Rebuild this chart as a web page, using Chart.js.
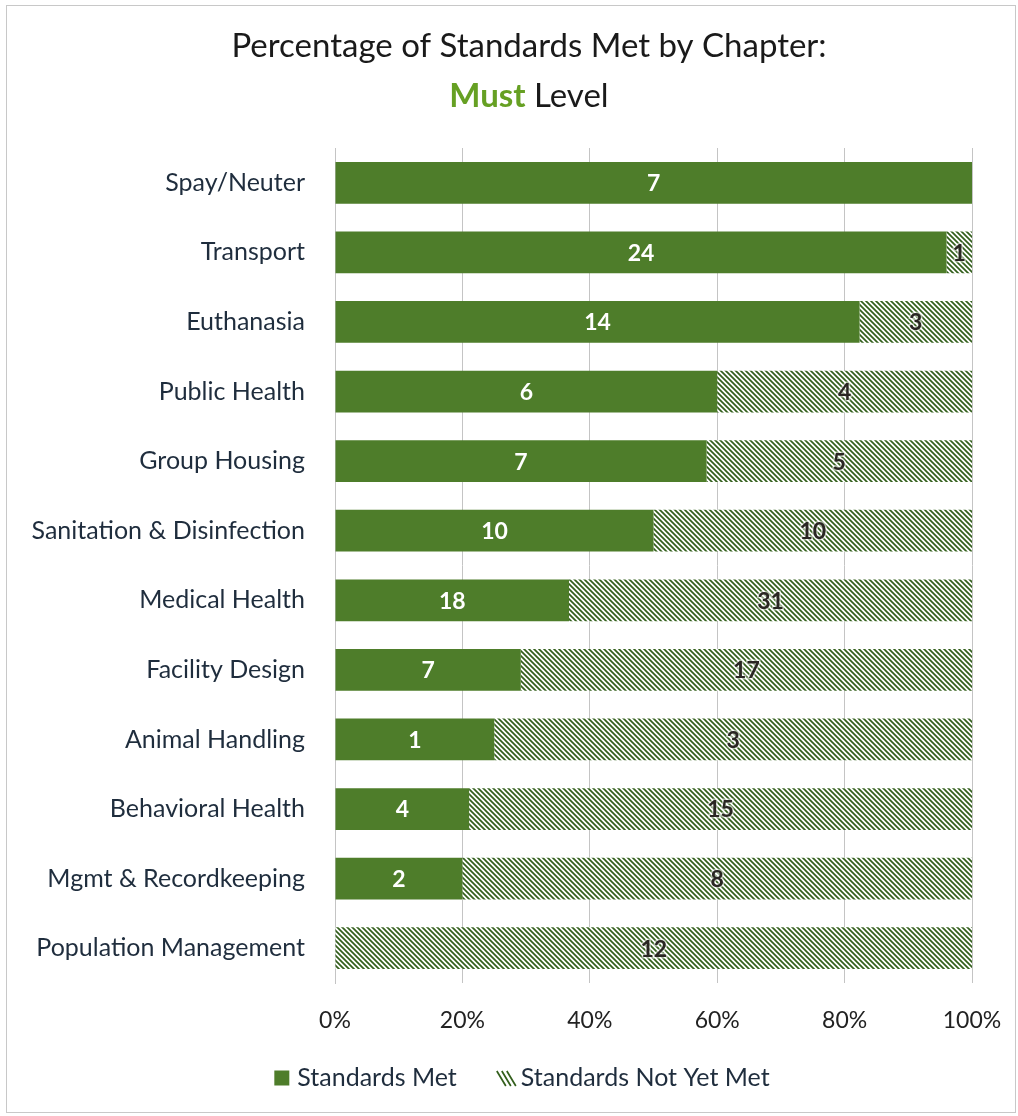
<!DOCTYPE html>
<html><head><meta charset="utf-8">
<script src="https://cdn.jsdelivr.net/npm/chart.js@4.4.0/dist/chart.umd.min.js"></script>
<style>
html,body{margin:0;padding:0;background:#fff;}
#wrap{position:relative;width:1018px;height:1116px;}
#frame{position:absolute;left:6px;top:5px;width:1010px;height:1108px;border:1px solid #c8c8c8;box-sizing:border-box;pointer-events:none;}
</style></head><body>
<div id="wrap"><canvas id="c"></canvas><div id="frame"></div></div>
<script>
const categories = ['Spay/Neuter','Transport','Euthanasia','Public Health','Group Housing','Sanitation & Disinfection','Medical Health','Facility Design','Animal Handling','Behavioral Health','Mgmt & Recordkeeping','Population Management'];
const metCounts = [7,24,14,6,7,10,18,7,1,4,2,0];
const notMetCounts = [0,1,3,4,5,10,31,17,3,15,8,12];
const seriesNames = ['Standards Met','Standards Not Yet Met'];
const tickLabels = ['0%','20%','40%','60%','80%','100%'];
const titleLine1 = 'Percentage of Standards Met by Chapter:';
const titleLine2a = 'Must';
const titleLine2b = ' Level';

const FONT = 'Lato, "Open Sans", "DejaVu Sans", sans-serif';
const GREEN = '#4e7d2a';
const HATCH_INK = '#335f1c';

function hatch(){
  const s = 5;
  const c = document.createElement('canvas'); c.width = s; c.height = s;
  const x = c.getContext('2d');
  x.fillStyle = '#ffffff'; x.fillRect(0,0,s,s);
  x.strokeStyle = HATCH_INK; x.lineWidth = 1.7;
  x.beginPath();
  x.moveTo(-1,-1); x.lineTo(s+1,s+1);
  x.moveTo(-1-s,-1); x.lineTo(1,s+1);
  x.moveTo(s-1,-1); x.lineTo(2*s+1,s+1);
  x.stroke();
  return x.createPattern(c,'repeat');
}
const hatchPattern = hatch();

const totals = metCounts.map((m,i)=>m+notMetCounts[i]);
const metPct = metCounts.map((m,i)=>m/totals[i]*100);
const notMetPct = notMetCounts.map((m,i)=>m/totals[i]*100);
const countsBySeries = [metCounts, notMetCounts];

const valueLabels = {
  id:'valueLabels',
  afterDatasetsDraw(chart){
    const ctx = chart.ctx;
    ctx.save();
    ctx.font = 'bold 23px ' + FONT;
    ctx.textAlign = 'center'; ctx.textBaseline = 'middle';
    chart.data.datasets.forEach((ds,di)=>{
      const meta = chart.getDatasetMeta(di);
      meta.data.forEach((bar,i)=>{
        const v = countsBySeries[di][i];
        if(!v) return;
        const cx = (bar.x + bar.base)/2;
        if(di===0){ ctx.fillStyle = '#ffffff'; ctx.fillText(String(v), cx, bar.y+1); }
        else {
          ctx.lineWidth = 3; ctx.strokeStyle = 'rgba(255,255,255,0.55)';
          ctx.strokeText(String(v), cx, bar.y+1);
          ctx.fillStyle = '#2a2623'; ctx.fillText(String(v), cx, bar.y+1);
        }
      });
    });
    ctx.restore();
  }
};

const titlePlugin = {
  id:'twoLineTitle',
  afterDraw(chart){
    const ctx = chart.ctx;
    ctx.save();
    ctx.textBaseline = 'middle';
    ctx.textAlign = 'center';
    ctx.fillStyle = '#1a1a1a';
    ctx.font = '33px ' + FONT;
    const cx = 529;
    ctx.fillText(titleLine1, cx, 46);
    ctx.font = 'bold 33px ' + FONT;
    const wa = ctx.measureText(titleLine2a).width;
    ctx.font = '33px ' + FONT;
    const wb = ctx.measureText(titleLine2b).width;
    const start = cx - (wa+wb)/2;
    ctx.textAlign = 'left';
    ctx.font = 'bold 33px ' + FONT;
    ctx.fillStyle = '#66a023';
    ctx.fillText(titleLine2a, start, 96);
    ctx.font = '33px ' + FONT;
    ctx.fillStyle = '#1a1a1a';
    ctx.fillText(titleLine2b, start+wa, 96);
    ctx.restore();
  }
};

const legendPlugin = {
  id:'customLegend',
  afterDraw(chart){
    const ctx = chart.ctx;
    const ds = chart.data.datasets;
    ctx.save();
    ctx.font = '25px ' + FONT;
    ctx.textBaseline = 'middle';
    const box = 15, gapBoxText = 8, gapItems = 40;
    const w0 = ctx.measureText(ds[0].label).width;
    const w1 = ctx.measureText(ds[1].label).width;
    const total = box + gapBoxText + w0 + gapItems + 18 + 6 + w1;
    let x = 522 - total/2;
    const cy = 1078;
    ctx.fillStyle = ds[0].backgroundColor;
    ctx.fillRect(x, cy-box/2, box, box);
    x += box + gapBoxText;
    ctx.fillStyle = '#1f2d3d';
    ctx.fillText(ds[0].label, x, cy);
    x += w0 + gapItems;
    ctx.strokeStyle = HATCH_INK; ctx.lineWidth = 1.7;
    ctx.beginPath();
    for(let k=0;k<3;k++){
      const ox = x + k*5;
      ctx.moveTo(ox, cy-7); ctx.lineTo(ox+9, cy+8);
    }
    ctx.stroke();
    x += 18 + 6;
    ctx.fillStyle = '#1f2d3d';
    ctx.fillText(ds[1].label, x, cy);
    ctx.restore();
  }
};

new Chart(document.getElementById('c'), {
  type:'bar',
  data:{
    labels:categories,
    datasets:[
      {label:seriesNames[0], data:metPct, backgroundColor:GREEN, borderWidth:0, barPercentage:0.6, categoryPercentage:1},
      {label:seriesNames[1], data:notMetPct, backgroundColor:hatchPattern, borderWidth:0, barPercentage:0.6, categoryPercentage:1}
    ]
  },
  options:{
    indexAxis:'y',
    responsive:true, maintainAspectRatio:false, animation:false,
    layout:{padding:{top:148, right:46, left:0, bottom:63}},
    plugins:{
      legend:{display:false},
      tooltip:{enabled:false}
    },
    scales:{
      x:{stacked:true, min:0, max:100,
         afterFit:(s)=>{ s.height = 70; s.paddingLeft = 0; s.paddingRight = 0; },
         ticks:{stepSize:20, padding:24, color:'#222', font:{family:FONT, size:23}, callback:(v,i)=>tickLabels[i]},
         grid:{color:'#c4c4c4', drawTicks:false}, border:{display:false}},
      y:{stacked:true,
         afterFit:(s)=>{ s.width = 335; },
         ticks:{padding:30, color:'#1f2d3d', font:{family:FONT, size:25}},
         grid:{display:false, drawTicks:false}, border:{display:true, color:'#c4c4c4'}}
    }
  },
  plugins:[valueLabels, titlePlugin, legendPlugin]
});
</script>
</body></html>
